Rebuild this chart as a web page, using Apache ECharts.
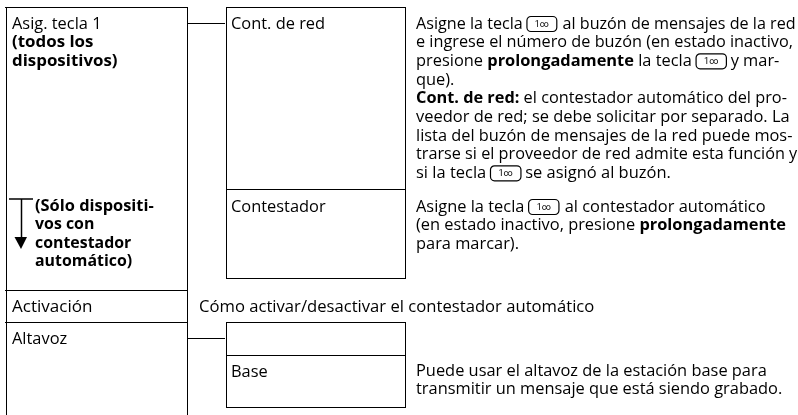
<!DOCTYPE html>
<html><head><meta charset="utf-8">
<style>html,body{margin:0;padding:0;background:#fff}#c{width:798px;height:415px}</style>
<script src="https://cdn.jsdelivr.net/npm/echarts@6/dist/echarts.min.js"></script>
</head><body><div id="c"></div>
<script>
var FONT = '"Open Sans"';
var leftTop = ['Asig. tecla 1', '{b|(todos los}', '{b|dispositivos)}'];
var leftNote = ['{b|(Sólo dispositi-}', '{b|vos con}', '{b|contestador}', '{b|automático)}'];
var midLabels = ['Cont. de red', 'Contestador', 'Base'];
var rowLabels = ['Activación', 'Altavoz'];
var activationText = 'Cómo activar/desactivar el contestador automático';
var redText = [
  'Asigne la tecla {k|1∞} {s| }al buzón de mensajes de la red',
  'e ingrese el número de buzón (en estado inactivo,',
  'presione {b|prolongadamente} la tecla {k|1∞} y mar-',
  'que).',
  '{b|Cont. de red:} el contestador automático del pro-',
  'veedor de red; se debe solicitar por separado. La',
  'lista del buzón de mensajes de la red puede mos-',
  'trarse si el proveedor de red admite esta función y',
  'si la tecla {k|1∞} se asignó al buzón.'
];
var contText = [
  'Asigne la tecla {k|1∞} {s| }al contestador automático',
  '(en estado inactivo, presione {b|prolongadamente}',
  'para marcar).'
];
var baseText = [
  'Puede usar el altavoz de la estación base para',
  'transmitir un mensaje que está siendo grabado.'
];
var FS = 16.4;
var INK = '#000';
var rich = {
  b: {fontFamily: FONT, fontSize: FS, fontWeight: 700, color: INK},
  s: {fontFamily: FONT, fontSize: 6, color: INK},
  k: {fontFamily: 'Roboto', fontSize: 9, color: INK, borderColor: INK, borderWidth: 1.2, borderRadius: 4,
      padding: [3, 8, 2, 8], height: 10}
};
var els = [];
function txt(s, x, y, sx) {
  els.push({type: 'text', x: x, y: y, scaleX: sx || 1, silent: true, style: {text: s, x: 0, y: 0, fill: INK,
    fontFamily: FONT, fontSize: FS, verticalAlign: 'middle', align: 'left', rich: rich}});
}
function block(lines, x, y, lh, sxs) { lines.forEach(function (s, i) { txt(s, x, y + i * lh, sxs && sxs[i]); }); }
function line(x1, y1, x2, y2, w) {
  els.push({type: 'line', silent: true, shape: {x1: x1, y1: y1, x2: x2, y2: y2}, style: {stroke: '#000', lineWidth: w || 1}});
}
line(5, 7.5, 188, 7.5); line(6.5, 7, 6.5, 415); line(187.5, 7, 187.5, 415);
line(5, 290.5, 188, 290.5); line(5, 322.5, 188, 322.5);
line(188, 23.5, 225, 23.5); line(188, 338.5, 225, 338.5);
line(226.5, 7, 226.5, 278.5); line(226, 7.5, 406, 7.5); line(405.5, 7, 405.5, 278.5);
line(226, 189.5, 406, 189.5); line(226, 278.5, 406, 278.5);
line(226.5, 322, 226.5, 407.5); line(226, 322.5, 406, 322.5); line(405.5, 322, 405.5, 407.5);
line(226, 355.5, 406, 355.5); line(226, 407.5, 406, 407.5);
line(9, 199, 33, 199, 1.5); line(21.5, 199, 21.5, 240, 1.5);
els.push({type: 'polygon', silent: true, shape: {points: [[14.5, 237], [27, 237], [21, 249]]}, style: {fill: '#000'}});
block(leftTop, 12, 24, 18.6, [1, 1.03, 1.03]);
block(leftNote, 35, 206, 18.6, [1, 0.97, 0.97, 0.97]);
txt(rowLabels[0], 12, 307, 1.04); txt(rowLabels[1], 12, 339);
txt(midLabels[0], 231, 24); txt(midLabels[1], 231, 207); txt(midLabels[2], 231, 372);
txt(activationText, 199, 307, 1.015);
block(redText, 416, 24, 18.67, [0.985, 0.992, 1, 1, 0.995, 1.004, 0.998, 0.99, 1.005]);
block(contText, 416, 207, 18.67);
block(baseText, 416, 371, 18.67);
var chart = echarts.init(document.getElementById('c'), null, {renderer: 'canvas'});
chart.setOption({animation: false, backgroundColor: '#fff', graphic: {elements: els}});
</script></body></html>
